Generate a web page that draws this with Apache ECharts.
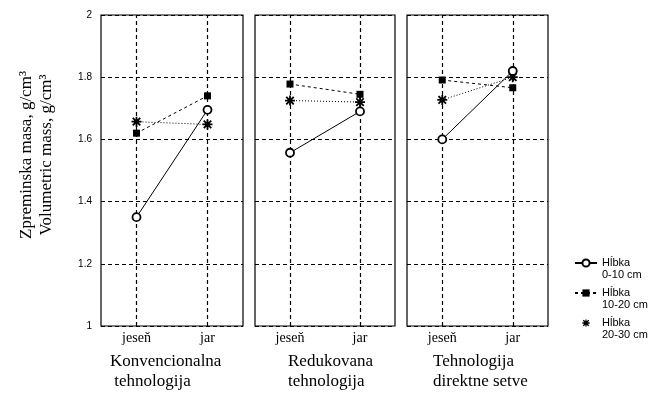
<!DOCTYPE html>
<html><head><meta charset="utf-8">
<script src="https://cdn.jsdelivr.net/npm/echarts@6/dist/echarts.min.js"></script>
<style>html,body{margin:0;padding:0;background:#fff}#c{width:653px;height:394px}</style>
</head><body><div id="c"></div>
<script>
const categories = ['jeseň', 'jar'];
const panelTitles = ['Konvencionalna\n tehnologija', 'Redukovana\ntehnologija', 'Tehnologija\ndirektne setve'];
const seriesNames = ['Hĺbka\n0-10 cm', 'Hĺbka\n10-20 cm', 'Hĺbka\n20-30 cm'];
const yAxisTitle = 'Zpreminska masa, g/cm³\nVolumetric mass, g/cm³';
// values per panel: [jeseň, jar]
const depth0_10 = [[1.35, 1.695], [1.557, 1.69], [1.60, 1.82]];
const depth10_20 = [[1.62, 1.74], [1.778, 1.745], [1.791, 1.766]];
const depth20_30 = [[1.657, 1.648], [1.725, 1.72], [1.727, 1.80]];

const starPath = 'path://M0,4.1L10,4.1L10,5.9L0,5.9Z M4.1,0L5.9,0L5.9,10L4.1,10Z M0.6,1.9L1.9,0.6L9.4,8.1L8.1,9.4Z M8.1,0.6L9.4,1.9L1.9,9.4L0.6,8.1Z';
const panels = [{left: 101, width: 142, tl: 105}, {left: 255, width: 140, tl: 283}, {left: 407, width: 141, tl: 428}];
const dash = [4, 3];

const grids = [], xAxes = [], yAxes = [], series = [], titles = [];
panels.forEach((p, i) => {
  grids.push({left: p.left, width: p.width, top: 15, height: 311, show: true, borderColor: '#000', borderWidth: 1.2, backgroundColor: 'transparent'});
  xAxes.push({type: 'category', gridIndex: i, data: categories, boundaryGap: true,
    axisLine: {show: false}, axisTick: {show: false}, splitLine: {show: false},
    axisLabel: {color: '#000', fontFamily: 'Liberation Serif', fontSize: 14, margin: 5}});
  yAxes.push({type: 'value', gridIndex: i, min: 1, max: 2, interval: 0.2,
    axisLine: {show: false}, axisTick: {show: false},
    splitLine: {show: true, lineStyle: {color: '#000', type: dash, width: 1.2}},
    axisLabel: {show: i === 0, color: '#000', fontFamily: 'Liberation Sans', fontSize: 10, margin: 9,
      formatter: v => String(Math.round(v * 10) / 10)}});
  series.push({name: seriesNames[0], type: 'line', xAxisIndex: i, yAxisIndex: i, data: depth0_10[i],
    symbol: 'circle', symbolSize: 8, z: 5,
    itemStyle: {color: '#fff', borderColor: '#000', borderWidth: 1.8},
    lineStyle: {color: '#000', width: 1}, animation: false,
    markLine: {silent: true, symbol: 'none', label: {show: false}, z: 1,
      lineStyle: {color: '#000', type: dash, width: 1.2},
      data: categories.map(c => ({xAxis: c}))}});
  series.push({name: seriesNames[1], type: 'line', xAxisIndex: i, yAxisIndex: i, data: depth10_20[i],
    symbol: 'rect', symbolSize: 7, z: 4,
    itemStyle: {color: '#000'}, lineStyle: {color: '#000', width: 1, type: [3, 3]}, animation: false});
  series.push({name: seriesNames[2], type: 'line', xAxisIndex: i, yAxisIndex: i, data: depth20_30[i],
    symbol: starPath, symbolSize: 10, z: 3,
    itemStyle: {color: '#000'}, lineStyle: {color: '#000', width: 1, type: [1, 2]}, animation: false});
  titles.push({text: panelTitles[i], left: p.tl, top: 347,
    textStyle: {color: '#000', fontFamily: 'Liberation Serif', fontSize: 17, fontWeight: 'normal', lineHeight: 20}});
});

const chart = echarts.init(document.getElementById('c'), null, {renderer: 'canvas'});
chart.setOption({
  animation: false,
  backgroundColor: '#fff',
  title: titles,
  grid: grids, xAxis: xAxes, yAxis: yAxes, series: series,
  graphic: [{type: 'text', x: 37, y: 155, rotation: Math.PI / 2,
    style: {text: yAxisTitle, align: 'center', verticalAlign: 'middle', fill: '#000',
      font: '17px "Liberation Serif"', lineHeight: 20}}],
  legend: {orient: 'vertical', left: 569, top: 240, itemWidth: 22, itemHeight: 9, itemGap: -6,
    formatter: name => '\n' + name,
    textStyle: {color: '#000', fontFamily: 'Liberation Sans', fontSize: 11, lineHeight: 12},
    data: [
      {name: seriesNames[0]},
      {name: seriesNames[1]},
      {name: seriesNames[2], lineStyle: {opacity: 0}}
    ]}
});
</script></body></html>
